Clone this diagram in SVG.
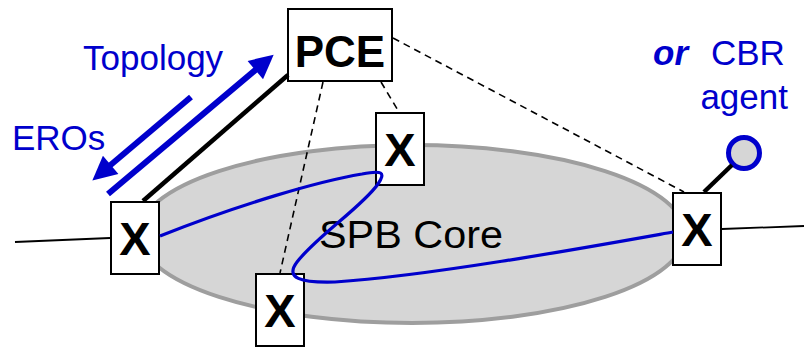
<svg xmlns="http://www.w3.org/2000/svg" width="804" height="347" viewBox="0 0 804 347">
<defs>
<style>
.box{fill:#fff;stroke:#000;stroke-width:2}
.xl{font-family:"Liberation Sans",Arial,sans-serif;font-weight:bold;font-size:47px;text-anchor:middle}
.blue{font-family:"Liberation Sans",Arial,sans-serif;font-size:35px;fill:#0000cc}
.dash{stroke:#000;stroke-width:1.6;stroke-dasharray:7,5;fill:none}
.thin{stroke:#000;stroke-width:1.8;fill:none}
.barrow{stroke:#0000cc;stroke-width:6;fill:none}
</style>
<marker id="ah" viewBox="0 0 10 10" refX="2" refY="5" markerWidth="5" markerHeight="4" markerUnits="strokeWidth" orient="auto">
<path d="M0,0 L10,5 L0,10 z" fill="#0000cc"/>
</marker>
</defs>
<rect width="804" height="347" fill="#fff"/>
<g id="core">
<ellipse cx="412" cy="234" rx="273" ry="89" fill="#d6d6d6" stroke="#9e9e9e" stroke-width="4"/>
<text x="411" y="248" font-family="Liberation Sans,Arial,sans-serif" font-size="38" text-anchor="middle" textLength="184" lengthAdjust="spacingAndGlyphs">SPB Core</text>
</g>
<g id="pce">
<rect class="box" x="288" y="9" width="104" height="72"/>
<text x="340" y="67" font-family="Liberation Sans,Arial,sans-serif" font-weight="bold" font-size="44" text-anchor="middle">PCE</text>
</g>
<g id="x-left">
<rect class="box" x="111" y="202" width="48" height="72"/>
<text class="xl" x="135" y="255">X</text>
</g>
<g id="x-bottom">
<rect class="box" x="256" y="274" width="48" height="72"/>
<text class="xl" x="280" y="327">X</text>
</g>
<g id="x-top">
<rect class="box" x="376" y="113" width="48" height="72"/>
<text class="xl" x="400" y="166">X</text>
</g>
<g id="x-right">
<rect class="box" x="673" y="193" width="48" height="72"/>
<text class="xl" x="697" y="246">X</text>
</g>
<g id="cbr-agent">
<circle cx="744" cy="153" r="15.5" fill="#d6d6d6" stroke="#0000cc" stroke-width="5"/>
</g>
<g id="connectors">
<line class="thin" x1="15" y1="242" x2="110" y2="238"/>
<line class="thin" x1="722" y1="229" x2="804" y2="226"/>
<line x1="143" y1="201" x2="288" y2="75" stroke="#000" stroke-width="4.5"/>
<line x1="704" y1="192" x2="732" y2="165" stroke="#000" stroke-width="4.5"/>
<line class="dash" x1="323" y1="82" x2="280" y2="273"/>
<line class="dash" x1="381" y1="82" x2="399" y2="112"/>
<line class="dash" x1="393" y1="38" x2="684" y2="192"/>
<path d="M160,236 C240,204 320,181 362,174 C382,170 386,172 378,184 C362,207 318,235 297,262 C285,278 300,283 335,282 C430,276 600,245 673,232" fill="none" stroke="#0000cc" stroke-width="3.2"/>
<line class="barrow" x1="108" y1="194" x2="259" y2="67" marker-end="url(#ah)"/>
<line class="barrow" x1="191" y1="97" x2="107" y2="168" marker-end="url(#ah)"/>
</g>
<g id="labels">
<text class="blue" x="83" y="70">Topology</text>
<text class="blue" x="12" y="150">EROs</text>
<text class="blue" x="653" y="65" font-weight="bold" font-style="italic">or</text>
<text class="blue" x="711" y="65">CBR</text>
<text class="blue" x="788" y="109" text-anchor="end">agent</text>
</g>
</svg>
